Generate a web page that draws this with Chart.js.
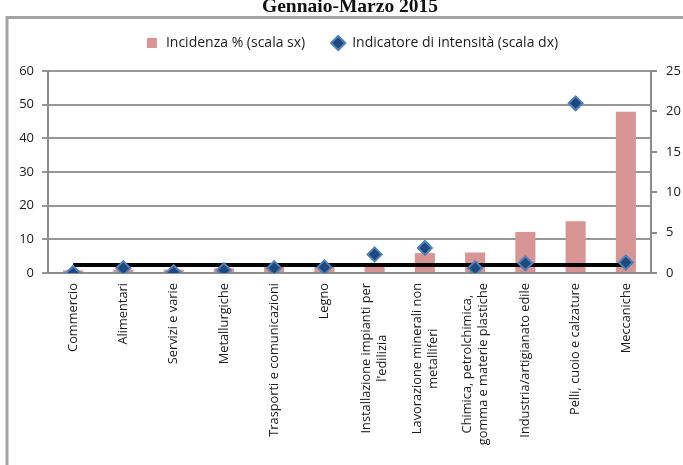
<!DOCTYPE html>
<html>
<head>
<meta charset="utf-8">
<script src="https://cdn.jsdelivr.net/npm/chart.js@4.4.1/dist/chart.umd.min.js"></script>
<style>
  html, body { margin: 0; padding: 0; background: #fff; }
  #wrap { position: relative; width: 683px; height: 465px; }
</style>
</head>
<body>
<div id="wrap"><canvas id="chart"></canvas></div>
<script>
const title = 'Gennaio-Marzo 2015'

const categories = [
  'Commercio',
  'Alimentari',
  'Servizi e varie',
  'Metallurgiche',
  'Trasporti e comunicazioni',
  'Legno',
  ['Installazione impianti per', "l'edilizia"],
  ['Lavorazione minerali non', 'metalliferi'],
  ['Chimica, petrolchimica,', 'gomma e materie plastiche'],
  'Industria/artigianato edile',
  'Pelli, cuoio e calzature',
  'Meccaniche'
]

// Incidenza % (scala sx)
const incidenza = [0.8, 1.0, 1.0, 1.4, 1.9, 1.8, 2.2, 5.9, 6.1, 12.2, 15.4, 47.9]
// Indicatore di intensità (scala dx)
const intensita = [0.0, 0.6, 0.1, 0.35, 0.6, 0.7, 2.3, 3.1, 0.6, 1.2, 21.0, 1.3]
// linea di riferimento (intensità = 1)
const riferimento = [1, 1, 1, 1, 1, 1, 1, 1, 1, 1, 1, 1]

const leftTicks  = [0, 10, 20, 30, 40, 50, 60]
const rightTicks = [0, 5, 10, 15, 20, 25]

const AXIS_GREY = '#8c8c8c'
const TEXT = '#1a1a1a'
const FONT = "'Open Sans', 'Noto Sans', sans-serif"

// title + outer frame
const framePlugin = {
  id: 'frame',
  beforeInit(chart) {
    const fit = chart.legend.fit
    chart.legend.fit = function () {
      fit.call(this)
      this.height += 11
    }
  },
  afterLayout(chart) {
    // legend sits centred over the plot area, not the whole canvas
    chart.legend.left += 10
    chart.legend.right += 10
  },
  beforeDraw(chart) {
    const c = chart.ctx
    c.save()
    c.strokeStyle = '#a3a3a3'
    c.lineWidth = 3
    c.beginPath()
    c.moveTo(6, 17.5)
    c.lineTo(chart.width, 17.5)
    c.moveTo(7, 16)
    c.lineTo(7, chart.height)
    c.stroke()
    c.fillStyle = '#111'
    c.font = "bold 19.5px 'Liberation Serif', 'DejaVu Serif', serif"
    c.textAlign = 'center'
    c.textBaseline = 'alphabetic'
    c.fillText(title, 350, 12)
    c.restore()
  },
  // category labels, lines centred on each other like the original
  afterDraw(chart) {
    const x = chart.scales.x
    const c = chart.ctx
    c.save()
    c.fillStyle = TEXT
    c.font = '12.8px ' + FONT
    c.textAlign = 'center'
    c.textBaseline = 'middle'
    const lh = 16
    categories.forEach((cat, i) => {
      const lines = Array.isArray(cat) ? cat : [cat]
      const w = Math.max(...lines.map(l => c.measureText(l).width))
      const px = x.getPixelForTick(i)
      c.save()
      c.translate(px, x.top + 10)
      c.rotate(-Math.PI / 2)
      lines.forEach((l, j) => {
        c.fillText(l, -w / 2, (j - (lines.length - 1) / 2) * lh)
      })
      c.restore()
    })
    c.restore()
  }
}

new Chart(document.getElementById('chart'), {
  data: {
    labels: categories,
    datasets: [
      {
        type: 'bar',
        label: 'Incidenza % (scala sx)',
        data: incidenza,
        yAxisID: 'y',
        backgroundColor: '#d99594',
        borderWidth: 0,
        barPercentage: 0.4,
        categoryPercentage: 1,
        order: 2,
        pointStyle: 'rect'
      },
      {
        type: 'line',
        label: 'Indicatore di intensità (scala dx)',
        data: intensita,
        yAxisID: 'y1',
        showLine: false,
        pointStyle: 'rectRot',
        pointRadius: 7,
        pointBackgroundColor: '#1f497d',
        pointBorderColor: '#4f81bd',
        pointBorderWidth: 2,
        backgroundColor: '#1f497d',
        borderColor: '#4f81bd',
        borderWidth: 2,
        order: 0
      },
      {
        type: 'line',
        label: 'riferimento',
        data: riferimento,
        yAxisID: 'y1',
        borderColor: '#000',
        borderWidth: 4,
        pointRadius: 0,
        order: 1
      }
    ]
  },
  options: {
    responsive: true,
    maintainAspectRatio: false,
    animation: false,
    layout: { padding: { top: 10, left: 0, right: 0, bottom: 0 } },
    plugins: {
      title: { display: false },
      tooltip: { enabled: false },
      legend: {
        display: true,
        position: 'top',
        labels: {
          usePointStyle: true,
          boxHeight: 10,
          padding: 26,
          color: TEXT,
          font: { family: FONT, size: 14 },
          sort: (a, b) => a.datasetIndex - b.datasetIndex,
          filter: (item) => item.datasetIndex !== 2
        }
      }
    },
    scales: {
      x: {
        type: 'category',
        offset: true,
        afterFit: (s) => { s.height = 192 },
        grid: { display: false },
        border: { color: AXIS_GREY, width: 2 },
        ticks: {
          autoSkip: false,
          maxRotation: 90,
          minRotation: 90,
          color: 'rgba(0,0,0,0)',
          font: { family: FONT, size: 11 }
        }
      },
      y: {
        position: 'left',
        min: 0,
        max: 60,
        afterFit: (s) => { s.width = 48 },
        afterBuildTicks: (s) => { s.ticks = leftTicks.map(v => ({ value: v })) },
        grid: { color: '#979797', lineWidth: 2, tickLength: 6, drawTicks: true },
        border: { color: AXIS_GREY, width: 2 },
        ticks: { padding: 8, color: TEXT, font: { family: FONT, size: 13 } }
      },
      y1: {
        position: 'right',
        min: 0,
        max: 25,
        afterFit: (s) => { s.width = 32 },
        afterBuildTicks: (s) => { s.ticks = rightTicks.map(v => ({ value: v })) },
        grid: { drawOnChartArea: false, color: AXIS_GREY, lineWidth: 2, tickLength: 6 },
        border: { color: AXIS_GREY, width: 2 },
        ticks: { padding: 9, color: TEXT, font: { family: FONT, size: 13 } }
      }
    }
  },
  plugins: [framePlugin]
})
</script>
</body>
</html>
